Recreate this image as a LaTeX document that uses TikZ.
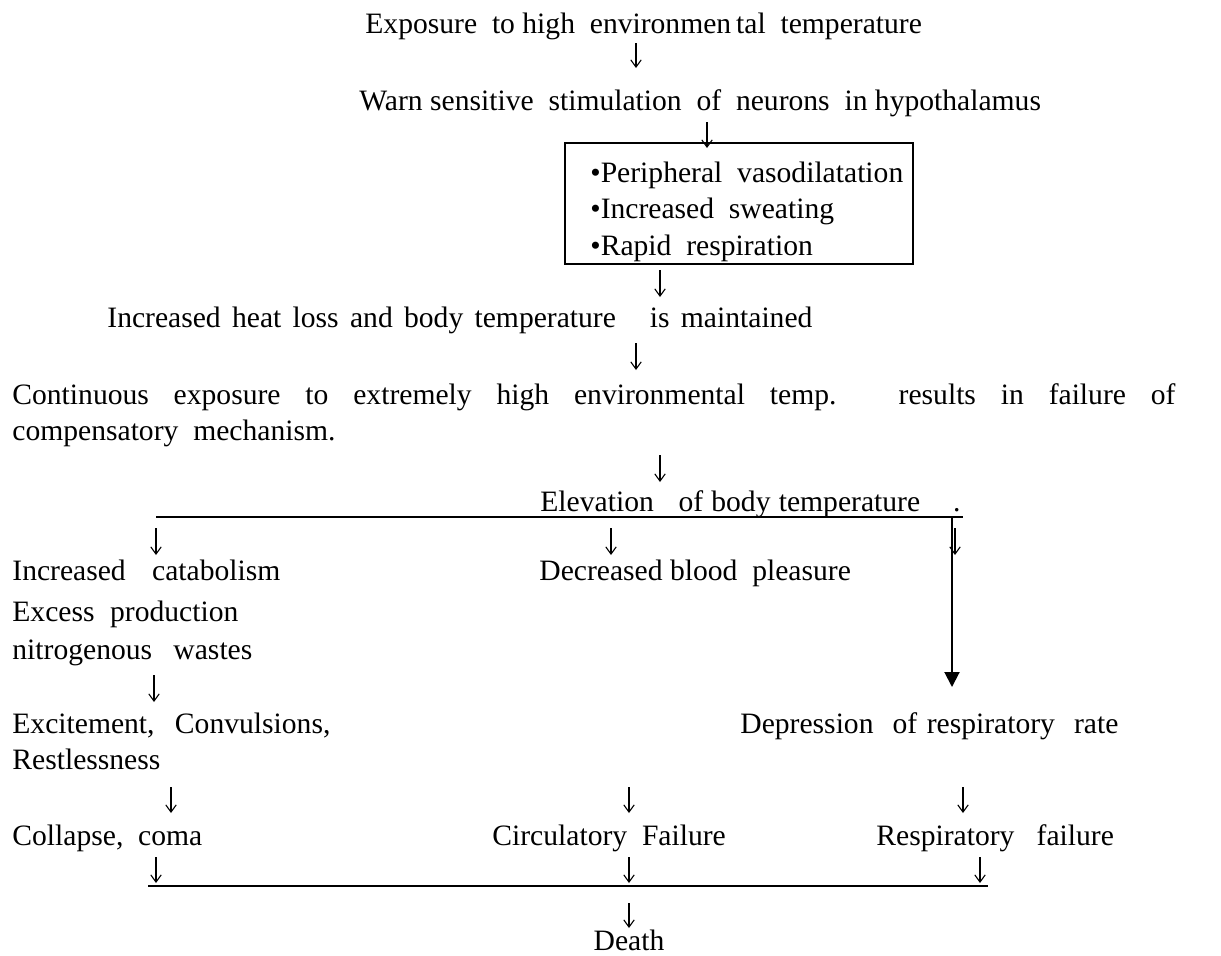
\documentclass[tikz,border=0pt]{standalone}
\usepackage{fontspec}
\setmainfont{Liberation Serif}
\usetikzlibrary{arrows.meta}
\begin{document}
\begin{tikzpicture}[x=0.5pt,y=-0.5pt,
  txt/.style={anchor=base west,inner sep=0pt,font=\fontsize{14.8pt}{17pt}\selectfont},
  ctr/.style={anchor=base,inner sep=0pt,font=\fontsize{14.8pt}{17pt}\selectfont},
  arr/.style={line width=0.55pt,-{Straight Barb[length=3.6pt,width=5.2pt,line width=0.55pt,line cap=butt,line join=miter]}},
  bar/.style={line width=1pt},
  frame/.style={draw,line width=0.75pt,inner sep=0pt}]
\useasboundingbox (0,0) rectangle (1221,955);

% opening chain
\node[txt] (expo) at (365,33) {Exposure \ to high \ environmen\,tal \ temperature};
\node[txt] (warn) at (359,110) {Warn sensitive \ stimulation \ of \ neurons \ in hypothalamus};

% box of responses
\node[frame,minimum width=174pt,minimum height=60.5pt] (box) at (739,203.5) {};
\node[txt] (b1) at (590,182) {•Peripheral \ vasodilatation};
\node[txt] (b2) at (590,218) {•Increased \ sweating};
\node[txt] (b3) at (590,255) {•Rapid \ respiration};

\node[txt] (loss) at (107,327) {\makebox[352.5pt][s]{Increased heat loss and body temperature \ \ is maintained}};
\node[txt] (cont) at (12,404) {\makebox[581.5pt][s]{Continuous exposure to extremely high environmental temp. results in failure of}};
\node[txt] (cont2) at (12,440) {compensatory \ mechanism.};
\node[txt] (elev) at (540,511) {\makebox[210pt][s]{Elevation \ \ of body temperature \ \ \ .}};

% split line and the long arrow on the right
\coordinate (s1) at (156,517);
\coordinate (s2) at (963,517);
\draw[bar] (s1) -- (s2);
\coordinate (tk) at (952,517);
\coordinate (th) at (952,687);
\draw[bar,-{Triangle[width=7.5pt,length=7.5pt]}] (tk) -- (th);

% left branch
\node[txt] (cat) at (12,580) {\makebox[134pt][s]{Increased \ catabolism}};
\node[txt] (exc) at (12,621) {\makebox[113pt][s]{Excess production}};
\node[txt] (nit) at (12,659) {\makebox[120pt][s]{nitrogenous \ wastes}};
\node[txt] (conv) at (12,733) {\makebox[159pt][s]{Excitement, \ Convulsions,}};
\node[txt] (rest) at (12,769) {Restlessness};

% middle branch
\node[txt] (bp) at (539,580) {Decreased blood \ pleasure};

% right branch
\node[txt] (resp) at (740,733) {\makebox[189pt][s]{Depression \ of respiratory \ rate}};

% failures
\node[txt] (coll) at (12,845) {Collapse, \ coma};
\node[txt] (circ) at (492,845) {Circulatory \ Failure};
\node[txt] (rfail) at (876,845) {Respiratory \ \ failure};

% joining line and outcome
\coordinate (j1) at (148,886);
\coordinate (j2) at (988,886);
\draw[bar] (j1) -- (j2);
\node[ctr] (death) at (629,950) {Death};

% short downward arrows: name / x / top / bottom
\foreach \n/\x/\t/\b in {
  1/636/43/68, 2/707/122/148, 3/660/270/297, 4/636/343/370, 5/660/455/482,
  6/156/528/555, 7/611/528/555, 8/955/528/555, 9/154/675/702,
  10/171/787/813, 11/629/787/813, 12/963/787/813,
  13/156/857/883, 14/629/857/883, 15/980/857/883, 16/629/903/928}{
  \coordinate (u\n) at (\x,\t);
  \coordinate (v\n) at (\x,\b);
  \draw[arr] (u\n) -- (v\n);
}
\end{tikzpicture}
\end{document}
